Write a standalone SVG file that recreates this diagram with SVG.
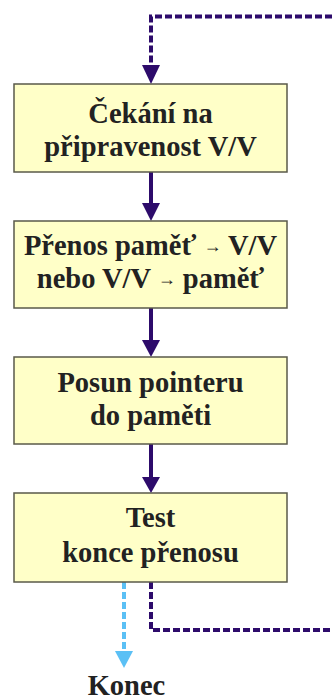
<svg xmlns="http://www.w3.org/2000/svg" width="332" height="700" viewBox="0 0 332 700">
<style>
.box{fill:#ffffc8;stroke:#5a5a4a;stroke-width:1.5}
.t{font-family:"Liberation Serif","Times New Roman",serif;font-weight:bold;font-size:28.5px;fill:#222;text-anchor:middle}
.sm{font-size:18px}
.solid{stroke:#2d0b6b;stroke-width:4;fill:none}
.dash{stroke:#2d0b6b;stroke-width:4;fill:none;stroke-dasharray:7 3}
.bdash{stroke:#5bc0f5;stroke-width:4;fill:none;stroke-dasharray:7 3}
.head{fill:#2d0b6b}
.bhead{fill:#5bc0f5}
</style>
<g id="connectors">
<path class="dash" d="M332,16.5 H151 V66"/>
<polygon class="head" points="142,65 160,65 151,84"/>
<path class="solid" d="M151,172 V204"/>
<polygon class="head" points="142,203 160,203 151,221"/>
<path class="solid" d="M151,308 V341"/>
<polygon class="head" points="142,340 160,340 151,357"/>
<path class="solid" d="M151,444 V478"/>
<polygon class="head" points="142,477 160,477 151,493"/>
<path class="dash" d="M151,582 V630 H332"/>
<path class="bdash" d="M124,582 V652"/>
<polygon class="bhead" points="115,651 133,651 124,668"/>
</g>
<g id="n1">
<rect class="box" x="14" y="84" width="273" height="88"/>
<text class="t" x="150.5" y="123">Čekání na</text>
<text class="t" x="150.5" y="156">připravenost V/V</text>
</g>
<g id="n2">
<rect class="box" x="14" y="221" width="273" height="87"/>
<text class="t" x="150.5" y="255">Přenos paměť <tspan class="sm" dy="-3">→</tspan><tspan dy="3"> V/V</tspan></text>
<text class="t" x="150.5" y="288">nebo V/V <tspan class="sm" dy="-3">→</tspan><tspan dy="3"> paměť</tspan></text>
</g>
<g id="n3">
<rect class="box" x="14" y="357" width="273" height="87"/>
<text class="t" x="150.5" y="392">Posun pointeru</text>
<text class="t" x="150.5" y="425">do paměti</text>
</g>
<g id="n4">
<rect class="box" x="14" y="493" width="273" height="89"/>
<text class="t" x="150.5" y="527">Test</text>
<text class="t" x="150.5" y="562">konce přenosu</text>
</g>
<g id="end">
<text class="t" x="126.5" y="695">Konec</text>
</g>
</svg>
